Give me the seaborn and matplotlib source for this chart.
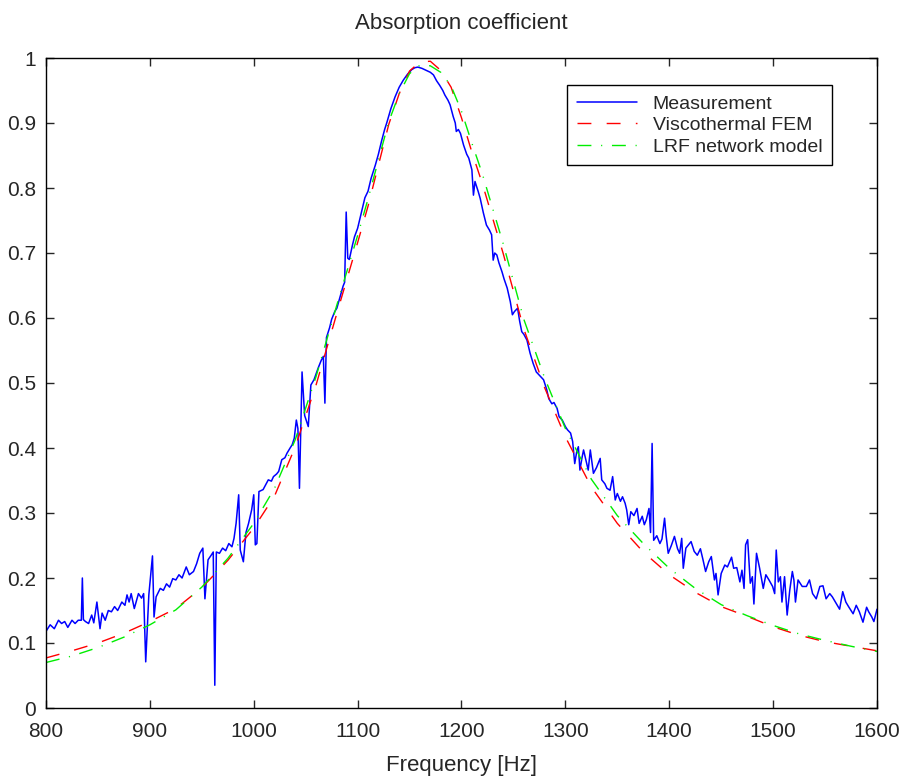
import numpy as np
import pandas as pd
import matplotlib
matplotlib.use('Agg')
import matplotlib.pyplot as plt
from matplotlib.ticker import FuncFormatter
import seaborn as sns

meas_freq = [
    800, 804, 808, 812, 815, 818, 821, 825, 828, 831,
    834, 835, 836, 838, 841, 844, 846, 849, 852, 854,
    857, 860, 863, 866, 869, 873, 876, 878, 880, 882,
    885, 889, 892, 894, 896, 899, 902.5, 904, 906, 910,
    913, 916, 919, 922, 925, 928, 931, 935, 938, 942,
    945, 948, 951, 953, 956, 959, 961, 962.5, 964, 967,
    970, 973, 976, 979, 981, 983, 985.5, 987, 990, 992.5,
    995, 998, 1000, 1001.5, 1003, 1005, 1009, 1012, 1014, 1017,
    1019, 1022, 1024, 1027, 1030, 1032, 1035, 1037, 1039, 1041,
    1042.5, 1044, 1046.5, 1049, 1052.5, 1055, 1058, 1062, 1065, 1067,
    1068.5, 1070, 1073, 1075, 1078, 1080, 1083, 1086, 1087.5, 1089,
    1090.5, 1092, 1095, 1097, 1100, 1104, 1107, 1110, 1113, 1117,
    1120, 1123, 1126, 1128, 1132, 1136, 1140, 1144, 1148, 1152,
    1155, 1158, 1162, 1166, 1170, 1173, 1176, 1179, 1182, 1184,
    1187, 1189, 1192, 1194, 1195, 1197, 1199, 1202, 1205, 1207,
    1210, 1211.5, 1213, 1216, 1218, 1221, 1224, 1227, 1229, 1230.5,
    1232, 1234, 1236, 1239, 1241, 1244, 1247, 1249, 1251, 1254,
    1256, 1258, 1260, 1263, 1266, 1269, 1272, 1276, 1279, 1282,
    1284, 1287, 1289, 1292, 1294, 1297, 1300, 1302, 1305, 1307,
    1309, 1311, 1312.5, 1314, 1316, 1317.5, 1320, 1322, 1324, 1327,
    1330, 1333.5, 1335, 1338, 1340, 1343, 1345.5, 1348, 1350, 1353,
    1355, 1357.5, 1359, 1361, 1363, 1366, 1369, 1371, 1374, 1376,
    1378, 1380.5, 1382, 1383.5, 1385, 1388, 1391, 1393, 1395.5, 1397,
    1399, 1402, 1405, 1408, 1410, 1412, 1413.5, 1416, 1419, 1421,
    1424, 1427, 1430, 1432.5, 1435, 1438, 1440.5, 1443.5, 1445, 1447,
    1450, 1453.5, 1456, 1460, 1462, 1465, 1468, 1470, 1472, 1473.5,
    1475.5, 1478, 1480, 1481.5, 1484, 1487, 1490.5, 1493, 1496, 1499.5,
    1501.5, 1503, 1505, 1507, 1508.5, 1511, 1513.5, 1516, 1518.5, 1520,
    1521.5, 1524, 1528, 1532, 1535, 1538, 1541.5, 1545, 1548, 1551,
    1554.5, 1557, 1561, 1564, 1567, 1570, 1573, 1577, 1580, 1583,
    1586.5, 1590, 1592, 1595, 1597, 1600,
]
meas_val = [
    0.118, 0.128, 0.122, 0.135, 0.130, 0.133, 0.124, 0.135, 0.130, 0.135,
    0.135, 0.200, 0.136, 0.133, 0.130, 0.143, 0.131, 0.163, 0.122, 0.146,
    0.135, 0.150, 0.148, 0.156, 0.150, 0.163, 0.158, 0.174, 0.163, 0.176,
    0.153, 0.176, 0.169, 0.176, 0.071, 0.174, 0.234, 0.140, 0.171, 0.184,
    0.181, 0.191, 0.186, 0.199, 0.197, 0.205, 0.200, 0.217, 0.205, 0.210,
    0.222, 0.238, 0.246, 0.168, 0.228, 0.235, 0.240, 0.035, 0.240, 0.238,
    0.246, 0.242, 0.253, 0.248, 0.261, 0.284, 0.328, 0.243, 0.225, 0.270,
    0.284, 0.305, 0.328, 0.251, 0.253, 0.333, 0.336, 0.345, 0.351, 0.349,
    0.356, 0.360, 0.364, 0.382, 0.385, 0.392, 0.400, 0.405, 0.415, 0.443,
    0.430, 0.338, 0.517, 0.450, 0.433, 0.497, 0.505, 0.523, 0.535, 0.541,
    0.469, 0.570, 0.585, 0.598, 0.610, 0.615, 0.632, 0.649, 0.655, 0.763,
    0.692, 0.690, 0.712, 0.725, 0.738, 0.765, 0.785, 0.795, 0.815, 0.835,
    0.852, 0.872, 0.890, 0.900, 0.922, 0.940, 0.955, 0.966, 0.975, 0.982,
    0.985, 0.986, 0.984, 0.981, 0.978, 0.974, 0.965, 0.958, 0.950, 0.943,
    0.935, 0.928, 0.910, 0.900, 0.887, 0.890, 0.884, 0.866, 0.852, 0.846,
    0.828, 0.789, 0.810, 0.795, 0.784, 0.762, 0.743, 0.735, 0.728, 0.689,
    0.700, 0.697, 0.685, 0.671, 0.660, 0.646, 0.625, 0.605, 0.610, 0.615,
    0.595, 0.579, 0.575, 0.566, 0.546, 0.530, 0.517, 0.510, 0.505, 0.490,
    0.476, 0.468, 0.470, 0.461, 0.448, 0.443, 0.433, 0.428, 0.423, 0.410,
    0.376, 0.395, 0.402, 0.366, 0.385, 0.397, 0.380, 0.366, 0.397, 0.361,
    0.370, 0.384, 0.351, 0.345, 0.338, 0.335, 0.356, 0.320, 0.330, 0.318,
    0.325, 0.315, 0.305, 0.282, 0.302, 0.296, 0.307, 0.284, 0.295, 0.282,
    0.290, 0.307, 0.270, 0.407, 0.258, 0.265, 0.253, 0.260, 0.292, 0.265,
    0.238, 0.250, 0.264, 0.245, 0.238, 0.261, 0.215, 0.246, 0.252, 0.256,
    0.241, 0.235, 0.245, 0.228, 0.210, 0.225, 0.233, 0.197, 0.207, 0.174,
    0.207, 0.220, 0.217, 0.232, 0.215, 0.216, 0.194, 0.212, 0.184, 0.251,
    0.259, 0.192, 0.202, 0.160, 0.238, 0.215, 0.184, 0.205, 0.197, 0.187,
    0.176, 0.243, 0.194, 0.202, 0.163, 0.202, 0.143, 0.181, 0.210, 0.197,
    0.163, 0.197, 0.187, 0.187, 0.197, 0.176, 0.168, 0.187, 0.188, 0.168,
    0.176, 0.171, 0.160, 0.152, 0.179, 0.163, 0.155, 0.145, 0.158, 0.148,
    0.132, 0.155, 0.148, 0.140, 0.133, 0.152,
]

# model curves
model_freq = [800, 825, 850, 875, 900, 925, 950, 975, 1000, 1020,
              1040, 1060, 1080, 1100, 1110, 1120, 1130, 1140, 1150, 1160,
              1170, 1180, 1190, 1200, 1210, 1220, 1240, 1260, 1280, 1300,
              1325, 1350, 1375, 1400, 1425, 1450, 1475, 1500, 1525, 1550,
              1575, 1600]
fem_val = [0.077, 0.088, 0.100, 0.115, 0.133, 0.153, 0.185, 0.227, 0.277, 0.326,
           0.402, 0.497, 0.607, 0.716, 0.772, 0.835, 0.898, 0.945, 0.980, 0.994,
           0.995, 0.981, 0.955, 0.908, 0.855, 0.807, 0.700, 0.583, 0.493, 0.417,
           0.340, 0.284, 0.240, 0.205, 0.178, 0.156, 0.141, 0.125, 0.112, 0.102,
           0.095, 0.088]
lrf_val = [0.070, 0.080, 0.093, 0.109, 0.128, 0.151, 0.186, 0.230, 0.284, 0.338,
           0.413, 0.510, 0.620, 0.727, 0.783, 0.843, 0.902, 0.945, 0.976, 0.989,
           0.988, 0.978, 0.957, 0.918, 0.869, 0.822, 0.715, 0.598, 0.508, 0.430,
           0.352, 0.296, 0.253, 0.215, 0.184, 0.159, 0.142, 0.127, 0.114, 0.104,
           0.095, 0.087]

assert len(meas_freq) == len(meas_val)

sns.set_style('ticks')
plt.rcParams['font.family'] = ['Liberation Sans', 'DejaVu Sans']

fig = plt.figure(figsize=(9.05, 7.78), dpi=100)
ax = fig.add_axes([46 / 905, 1 - 708 / 778, 831 / 905, 650 / 778])

sns.lineplot(x=meas_freq, y=meas_val, ax=ax, color='#0000ff', linewidth=1.1,
             estimator=None, sort=False, label='Measurement')
sns.lineplot(x=model_freq, y=fem_val, ax=ax, color='#ff0000', linewidth=1.0,
             estimator=None, sort=False, linestyle=(0, (10, 11)),
             label='Viscothermal FEM')
sns.lineplot(x=model_freq, y=lrf_val, ax=ax, color='#00ee00', linewidth=1.0,
             estimator=None, sort=False, linestyle=(0, (10, 7, 0.8, 7)),
             label='LRF network model')

ax.set_xlim(800, 1600)
ax.set_ylim(0, 1)
ax.set_xticks(np.arange(800, 1601, 100))
ax.set_yticks(np.arange(0, 1.01, 0.1))
ax.yaxis.set_major_formatter(FuncFormatter(lambda v, p: '%g' % round(v, 1)))
ax.tick_params(direction='in', length=6, width=1, labelsize=15,
               top=True, right=True, pad=7)
ax.tick_params(axis='x', pad=10)
for s in ax.spines.values():
    s.set_visible(True)
    s.set_linewidth(1.0)
    s.set_color('black')

ax.set_xlabel('Frequency [Hz]', fontsize=16, labelpad=10)
ax.set_ylabel('')
ax.set_title('Absorption coefficient', fontsize=16, pad=21)

leg = ax.legend(loc='upper right', bbox_to_anchor=(0.946, 0.958),
                borderaxespad=0, fontsize=14, frameon=True, fancybox=False,
                edgecolor='black', framealpha=1, handlelength=3.1,
                handletextpad=0.8, labelspacing=0.2, borderpad=0.5)
leg.get_frame().set_linewidth(1.0)

fig.savefig('out.png', dpi=100)
